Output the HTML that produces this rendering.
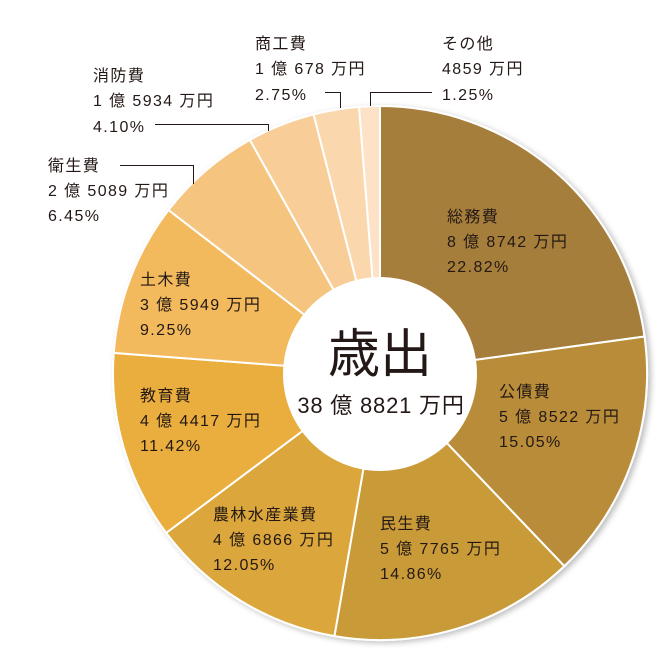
<!DOCTYPE html>
<html><head><meta charset="utf-8"><style>
html,body{margin:0;padding:0;background:#fff;}
svg text{font-family:"Liberation Sans","Noto Sans CJK JP",sans-serif;fill:#231815;}
</style></head><body>
<svg id="s" width="672" height="651" viewBox="0 0 672 651" xmlns="http://www.w3.org/2000/svg">
<defs><filter id="sh" x="-10%" y="-10%" width="120%" height="120%"><feDropShadow dx="3" dy="2" stdDeviation="3" flood-color="#000" flood-opacity="0.25"/></filter></defs>
<g id="pie" filter="url(#sh)"></g>
<circle cx="380" cy="374" r="97" fill="#fff"/>
<g fill="none" stroke="#231815" stroke-width="1">
<path d="M155 124.5H268.5V131"/>
<path d="M120 165.5H193.5V184"/>
<path d="M325 92.5H340.5V108"/>
<path d="M370.5 106V92.5H432"/>
</g>
<g font-size="16" letter-spacing="1.4">
<text x="447" y="222">総務費</text><text x="447" y="247">8 億 8742 万円</text><text x="447" y="272">22.82%</text>
<text x="499" y="397">公債費</text><text x="499" y="422">5 億 8522 万円</text><text x="499" y="447">15.05%</text>
<text x="380" y="529">民生費</text><text x="380" y="554">5 億 7765 万円</text><text x="380" y="579">14.86%</text>
<text x="213" y="520">農林水産業費</text><text x="213" y="545">4 億 6866 万円</text><text x="213" y="570">12.05%</text>
<text x="140" y="401">教育費</text><text x="140" y="426">4 億 4417 万円</text><text x="140" y="451">11.42%</text>
<text x="140" y="285">土木費</text><text x="140" y="310">3 億 5949 万円</text><text x="140" y="335">9.25%</text>
<text x="48" y="171">衛生費</text><text x="48" y="196">2 億 5089 万円</text><text x="48" y="221">6.45%</text>
<text x="93" y="81">消防費</text><text x="93" y="106">1 億 5934 万円</text><text x="93" y="132">4.10%</text>
<text x="255" y="49">商工費</text><text x="255" y="74">1 億 678 万円</text><text x="255" y="100">2.75%</text>
<text x="442" y="49">その他</text><text x="442" y="74">4859 万円</text><text x="442" y="100">1.25%</text>
</g>
<text x="380" y="372" font-size="52" text-anchor="middle">歳出</text>
<text x="381" y="413" font-size="22" letter-spacing="0.8" text-anchor="middle">38 億 8821 万円</text>
</svg>
<script>
var d=[[22.82,"#a67e3a"],[15.05,"#b88c37"],[14.86,"#c99a38"],[12.05,"#dba63a"],[11.42,"#e9ae3c"],[9.25,"#f2ba5c"],[6.45,"#f5c47f"],[4.10,"#f8cd97"],[2.75,"#fad7ad"],[1.25,"#fde2c8"]];
var cx=380,cy=373,R=267,a=0,g=document.getElementById("pie"),h="";
function p(t,r){var q=t/100*2*Math.PI;return [cx+r*Math.sin(q),cy-r*Math.cos(q)];}
d.forEach(function(e){var s=p(a,R),b=a+e[0],t=p(b,R),l=e[0]>50?1:0;
h+='<path d="M'+cx+' '+cy+'L'+s[0].toFixed(2)+' '+s[1].toFixed(2)+'A'+R+' '+R+' 0 '+l+' 1 '+t[0].toFixed(2)+' '+t[1].toFixed(2)+'Z" fill="'+e[1]+'" stroke="#fff" stroke-width="2"/>';a=b;});
g.innerHTML=h;
</script>
</body></html>
